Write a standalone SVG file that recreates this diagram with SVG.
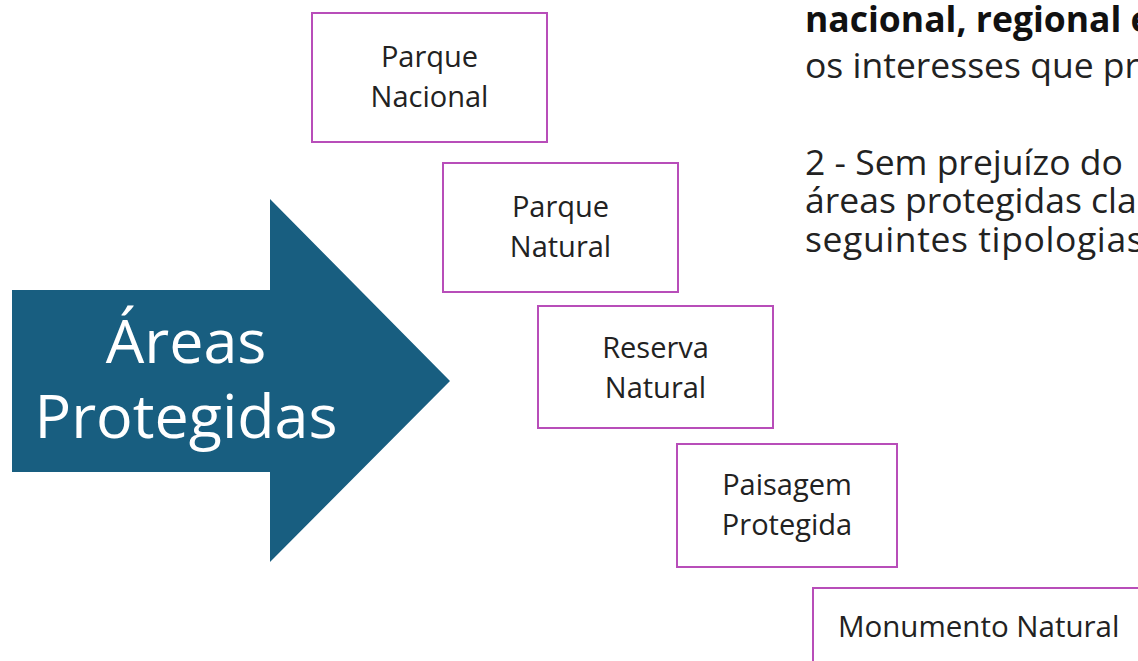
<svg xmlns="http://www.w3.org/2000/svg" width="1138" height="661" viewBox="0 0 1138 661">
<style>
.box{fill:#fff;stroke:#B84DB9;stroke-width:2}
.lbl{font-family:"Open Sans","Liberation Sans",sans-serif;font-size:29px;fill:#222;text-anchor:middle}
.lbl-start{font-family:"Open Sans","Liberation Sans",sans-serif;font-size:29.5px;fill:#222;text-anchor:start}
.big{font-family:"Open Sans","Liberation Sans",sans-serif;font-size:61px;fill:#fff;text-anchor:middle}
.body{font-family:"Open Sans","Liberation Sans",sans-serif;font-size:35.5px;fill:#222}
</style>
<rect width="1138" height="661" fill="#fff"/>
<g id="body-text">
<text class="body" x="805" y="32"><tspan font-weight="700" fill="#111">nacional, regional e</tspan><tspan x="805" y="78">os interesses que pr</tspan><tspan x="805" y="175">2 - Sem prejuízo do</tspan><tspan x="805" y="213">áreas protegidas cla</tspan><tspan x="805" y="252" letter-spacing="0.6">seguintes tipologias</tspan></text>
</g>
<g id="arrow-areas">
<polygon points="12,290 270,290 270,199 450,381 270,562 270,472 12,472" fill="#185E80"/>
<text class="big" x="186" y="363">Áreas</text>
<text class="big" x="186" y="438">Protegidas</text>
</g>
<g id="connectors"></g>
<g id="parque-nacional">
<rect class="box" x="312" y="13" width="235" height="129"/>
<text class="lbl" x="429.5" y="67">Parque</text>
<text class="lbl" x="429.5" y="107">Nacional</text>
</g>
<g id="parque-natural">
<rect class="box" x="443" y="163" width="235" height="129"/>
<text class="lbl" x="560.5" y="217">Parque</text>
<text class="lbl" x="560.5" y="257">Natural</text>
</g>
<g id="reserva-natural">
<rect class="box" x="538" y="306" width="235" height="122"/>
<text class="lbl" x="655.5" y="358">Reserva</text>
<text class="lbl" x="655.5" y="398">Natural</text>
</g>
<g id="paisagem-protegida">
<rect class="box" x="677" y="444" width="220" height="123"/>
<text class="lbl" x="787" y="495">Paisagem</text>
<text class="lbl" x="787" y="535">Protegida</text>
</g>
<g id="monumento-natural">
<rect class="box" x="813" y="588" width="400" height="120"/>
<text class="lbl-start" x="838" y="637">Monumento Natural</text>
</g>
</svg>
